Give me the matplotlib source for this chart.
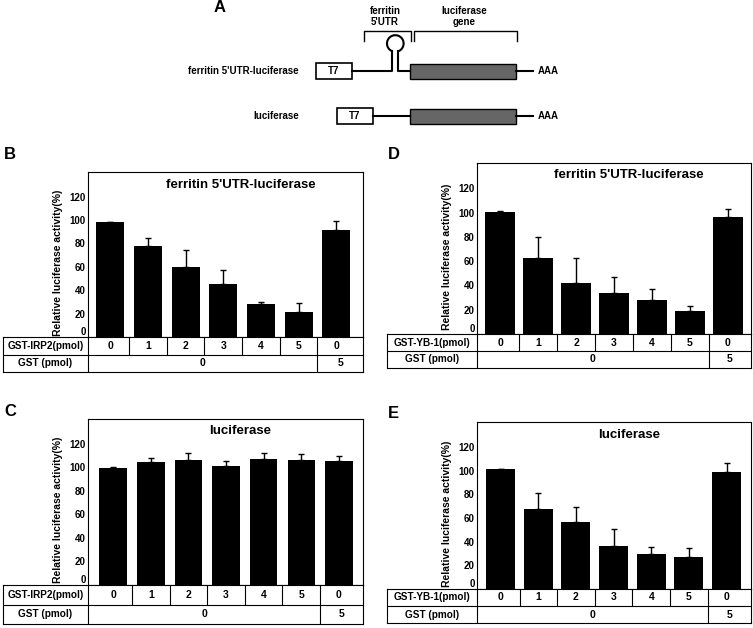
"""Luciferase reporter assay panels A-E (ferritin 5'UTR vs plain luciferase)."""

import matplotlib

matplotlib.use("Agg")

import matplotlib.pyplot as plt
import numpy as np
from matplotlib.patches import Arc, Rectangle

plt.rcParams["font.family"] = ["Liberation Sans", "DejaVu Sans"]
plt.rcParams["font.weight"] = "bold"

W, H = 753, 628

# ---- data -----------------------------------------------------------------
protein_doses = ["0", "1", "2", "3", "4", "5", "0"]
gst_doses = ["0", "5"]
y_ticks = [0, 20, 40, 60, 80, 100, 120]

b_values = [98, 78, 60, 45, 28, 21, 91.5]
b_errors = [0.5, 7, 14.5, 12, 1.6, 8, 7.5]
c_values = [99.8, 104.9, 106.3, 101.5, 106.6, 106, 105.2]
c_errors = [0.5, 2.9, 6, 3.7, 5.7, 5.5, 4.3]
d_values = [100.8, 63, 41.8, 33.8, 28, 19.2, 96.2]
d_errors = [0.3, 16.7, 20.6, 13.5, 8.8, 3.6, 7.1]
e_values = [101.5, 67.7, 56.5, 36.5, 29.5, 27, 98.4]
e_errors = [0.0, 13.3, 12.6, 14.1, 6.2, 7.3, 7.8]

panels = [
    # letter, title, row label, values, errors, box px (l, r, top, y0), table left, row h, xlim, width
    ("B", "ferritin 5'UTR-luciferase", "GST-IRP2(pmol)", b_values, b_errors,
     (88, 363, 172, 337), 3, 17.5, (-0.59, 6.71), 0.74, (10, 154)),
    ("C", "luciferase", "GST-IRP2(pmol)", c_values, c_errors,
     (88, 363, 419, 585), 3, 19.5, (-0.67, 6.64), 0.73, (10, 412)),
    ("D", "ferritin 5'UTR-luciferase", "GST-YB-1(pmol)", d_values, d_errors,
     (477, 751, 163, 334), 387, 17, (-0.61, 6.61), 0.79, (394, 154)),
    ("E", "luciferase", "GST-YB-1(pmol)", e_values, e_errors,
     (477, 751, 422, 589), 387, 17, (-0.63, 6.65), 0.77, (393, 414)),
]


def px_axes(fig, left, right, top, bottom):
    return fig.add_axes([left / W, 1 - bottom / H, (right - left) / W, (bottom - top) / H])


fig = plt.figure(figsize=(W / 100, H / 100), dpi=100)

# ---- panel A: construct diagram -------------------------------------------
diag = px_axes(fig, 0, W, 0, 135)
diag.set_xlim(0, W)
diag.set_ylim(135, 0)
diag.axis("off")
lw = 1.5

diag.text(220, 8, "A", fontsize=12, ha="center", va="center")
diag.text(385, 16.5, "ferritin\n5'UTR", fontsize=7, ha="center", va="center", linespacing=1.1)
diag.text(464, 16.5, "luciferase\ngene", fontsize=7, ha="center", va="center", linespacing=1.1)
diag.plot([364, 364, 411, 411], [41, 31, 31, 41], color="black", lw=1)
diag.plot([414, 414, 517, 517], [41, 31, 31, 41], color="black", lw=1)

constructs = [
    ("ferritin 5'UTR-luciferase", 71, 316, True),
    ("luciferase", 116, 337, False),
]
for name, yc, t7_left, has_loop in constructs:
    diag.text(299, yc, name, fontsize=7, ha="right", va="center")
    diag.add_patch(Rectangle((t7_left, yc - 8), 36, 16, facecolor="white",
                             edgecolor="black", lw=1.2))
    diag.text(t7_left + 18, yc, "T7", fontsize=7, ha="center", va="center")
    if has_loop:
        diag.plot([t7_left + 36, 392.3, 392.3], [yc, yc, 51.2], color="black", lw=lw)
        diag.plot([398.3, 398.3, 410], [51.2, yc, yc], color="black", lw=lw)
        diag.add_patch(Arc((395.3, 43.5), 16.6, 16.6, theta1=111.2, theta2=428.8,
                           color="black", lw=lw))
    else:
        diag.plot([t7_left + 36, 410], [yc, yc], color="black", lw=lw)
    diag.add_patch(Rectangle((410, yc - 7.5), 106, 15.5, facecolor="#666666",
                             edgecolor="black", lw=1))
    diag.plot([516, 533], [yc, yc], color="black", lw=lw)
    diag.text(538, yc, "AAA", fontsize=7, ha="left", va="center")

# ---- panels B-E: bar charts with dose tables --------------------------------
for (letter, title, row_label, values, errors, box, table_left, row_h,
     xlim, width, letter_pos) in panels:
    left, right, top, y0 = box
    ax = px_axes(fig, left, right, top, y0)
    x = np.arange(len(values))
    ax.bar(x, values, width=width, color="black")
    ax.errorbar(x, values, yerr=[np.zeros(len(errors)), errors], fmt="none",
                ecolor="black", elinewidth=1, capsize=2.2, capthick=1)
    ax.set_xlim(*xlim)
    ax.set_ylim(0, 141)
    ax.set_xticks([])
    ax.set_yticks(y_ticks)
    ax.tick_params(axis="y", labelsize=7, length=0, pad=1.5)
    # the zero label sits on the axis line, above the dose table
    ax.yaxis.get_major_ticks()[0].label1.set_verticalalignment("bottom")
    for sp in ax.spines.values():
        sp.set_linewidth(0.8)
    ax.text(0.555, 1 - 12.5 / (y0 - top), title, transform=ax.transAxes,
            fontsize=9.5, ha="center", va="center")
    ax.text(-30 / (right - left), 0.45, "Relative luciferase activity(%)",
            transform=ax.transAxes, rotation=90, fontsize=7.5, ha="center", va="center")
    fig.text(letter_pos[0] / W, 1 - letter_pos[1] / H, letter, fontsize=12,
             ha="center", va="center")

    # dose table under the axes, sharing the bar x scale
    ppu = (right - left) / (xlim[1] - xlim[0])
    tab_x0 = xlim[0] - (left - table_left) / ppu
    tab = px_axes(fig, table_left, right, y0, y0 + 2 * row_h)
    tab.set_xlim(tab_x0, xlim[1])
    tab.set_ylim(2, 0)
    tab.set_xticks([])
    tab.set_yticks([])
    for sp in tab.spines.values():
        sp.set_linewidth(0.8)
    tab.plot([tab_x0, xlim[1]], [1, 1], color="black", lw=0.8)
    tab.plot([xlim[0], xlim[0]], [0, 2], color="black", lw=0.8)
    tab.vlines(x[:-1] + 0.5, 0, 1, color="black", lw=0.8)
    tab.vlines(x[-2] + 0.5, 1, 2, color="black", lw=0.8)
    label_x = (tab_x0 + xlim[0]) / 2
    tab.text(label_x, 0.5, row_label, fontsize=7.2, ha="center", va="center")
    tab.text(label_x, 1.5, "GST (pmol)", fontsize=7.2, ha="center", va="center")
    for xi, dose in zip(x, protein_doses):
        tab.text(xi, 0.5, dose, fontsize=7.5, ha="center", va="center")
    tab.text((xlim[0] + x[-2] + 0.5) / 2, 1.5, gst_doses[0], fontsize=7.5,
             ha="center", va="center")
    tab.text((x[-2] + 0.5 + xlim[1]) / 2, 1.5, gst_doses[1], fontsize=7.5,
             ha="center", va="center")

fig.savefig("out.png", dpi=100)
plt.close(fig)
